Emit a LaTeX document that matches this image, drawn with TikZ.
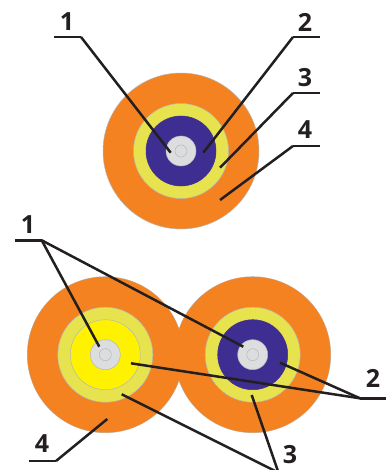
\documentclass[tikz,border=0pt]{standalone}
\usepackage{fontspec}
\setmainfont{Open Sans}
\tikzset{
  disc/.style={circle,inner sep=0pt,outer sep=0pt,draw=edgegray,line width=0.5pt},
  jacket/.style={disc,fill=jacketorange,minimum size=156pt},
  jacketfill/.style={circle,inner sep=0pt,outer sep=0pt,fill=jacketorange,minimum size=155.4pt},
  ring/.style={disc,fill=ringyellow,minimum size=95pt},
  corebluefill/.style={disc,fill=coreblue,minimum size=70pt,draw=coreblue},
  coreyellowfill/.style={disc,fill=coreyellow,minimum size=70pt},
  cladding/.style={disc,fill=cladgray,minimum size=30pt},
  fibre/.style={disc,fill=cladgray,minimum size=12pt},
  leader/.style={draw=leaderblack,line width=2.5pt,line cap=butt,line join=miter},
  shelf/.style={draw=leaderblack,line width=2.7pt},
  num/.style={font=\bfseries\fontsize{25}{25}\selectfont,text=leaderblack,inner sep=0pt}
}
\definecolor{jacketorange}{HTML}{F58220}
\definecolor{ringyellow}{HTML}{E6E34F}
\definecolor{coreblue}{HTML}{3F2E91}
\definecolor{coreyellow}{HTML}{FFF200}
\definecolor{cladgray}{HTML}{DCDDDE}
\definecolor{edgegray}{HTML}{B5B7BA}
\definecolor{leaderblack}{HTML}{231F20}
\begin{document}
\begin{tikzpicture}[x=1pt,y=-1pt]
\useasboundingbox (0,0) rectangle (386,470);
\clip (0,0) rectangle (386,470);
% top cable
\node[jacket] (tj) at (181,151) {};
\node[ring] (tr) at (181,151) {};
\node[corebluefill] (tc) at (181,151) {};
\node[cladding] (tg) at (181,151) {};
\node[fibre] (tf) at (181,151) {};
% bottom cables: jackets merge where they overlap
\node[jacket] (lj) at (105.3,354.7) {};
\node[jacket] (rj) at (252.7,354.7) {};
\node[jacketfill] (ljf) at (105.3,354.7) {};
\node[jacketfill] (rjf) at (252.7,354.7) {};
% bottom left cable
\node[ring] (lr) at (105.3,354.7) {};
\node[coreyellowfill] (lc) at (105.3,354.7) {};
\node[cladding] (lg) at (105.3,354.7) {};
\node[fibre] (lf) at (105.3,354.7) {};
% bottom right cable
\node[ring] (rr) at (252.7,354.7) {};
\node[corebluefill] (rc) at (252.7,354.7) {};
\node[cladding] (rg) at (252.7,354.7) {};
\node[fibre] (rf) at (252.7,354.7) {};
% leader coordinates, top
\coordinate (a1) at (54,37);   \coordinate (b1) at (81,37);   \coordinate (e1) at (170.7,152.7);
\coordinate (a2) at (320,37);  \coordinate (b2) at (293,37);  \coordinate (e2) at (203.3,152.7);
\coordinate (a3) at (320,93);  \coordinate (b3) at (293,93);  \coordinate (e3) at (220,167.7);
\coordinate (a4) at (320,146); \coordinate (b4) at (293,146); \coordinate (e4) at (220,200);
\draw[leader] (b1) -- (e1);
\draw[leader] (b2) -- (e2);
\draw[leader] (b3) -- (e3);
\draw[leader] (b4) -- (e4);
\draw[shelf] (a1) -- (b1);
\draw[shelf] (a2) -- (b2);
\draw[shelf] (a3) -- (b3);
\draw[shelf] (a4) -- (b4);
% leader coordinates, bottom
\coordinate (c1) at (15,240.3);  \coordinate (d1) at (41.7,240.3);
\coordinate (f1) at (99.3,346.7); \coordinate (g1) at (243.3,346.7);
\coordinate (c2) at (386,398.3); \coordinate (d2) at (360,398.3);
\coordinate (f2) at (131,363.3); \coordinate (g2) at (280,362.7);
\coordinate (d3) at (278.5,472.7);
\coordinate (f3) at (121.7,394.3); \coordinate (g3) at (251.7,395);
\coordinate (c4) at (29,461); \coordinate (d4) at (56,461); \coordinate (f4) at (107.3,419);
\draw[leader] (d1) -- (f1);
\draw[leader] (d1) -- (g1);
\draw[leader] (d2) -- (f2);
\draw[leader] (d2) -- (g2);
\draw[leader] (d3) -- (f3);
\draw[leader] (d3) -- (g3);
\draw[leader] (d4) -- (f4);
\draw[shelf] (c1) -- (d1);
\draw[shelf] (c2) -- (d2);
\draw[shelf] (c4) -- (d4);
% labels
\node[num] (n1) at (67,22) {1};
\node[num] (n2) at (305,22) {2};
\node[num] (n3) at (305,78) {3};
\node[num] (n4) at (305,130) {4};
\node[num] (m1) at (28,225) {1};
\node[num] (m2) at (373,378) {2};
\node[num] (m3) at (290,455) {3};
\node[num] (m4) at (42,444) {4};
\end{tikzpicture}
\end{document}
